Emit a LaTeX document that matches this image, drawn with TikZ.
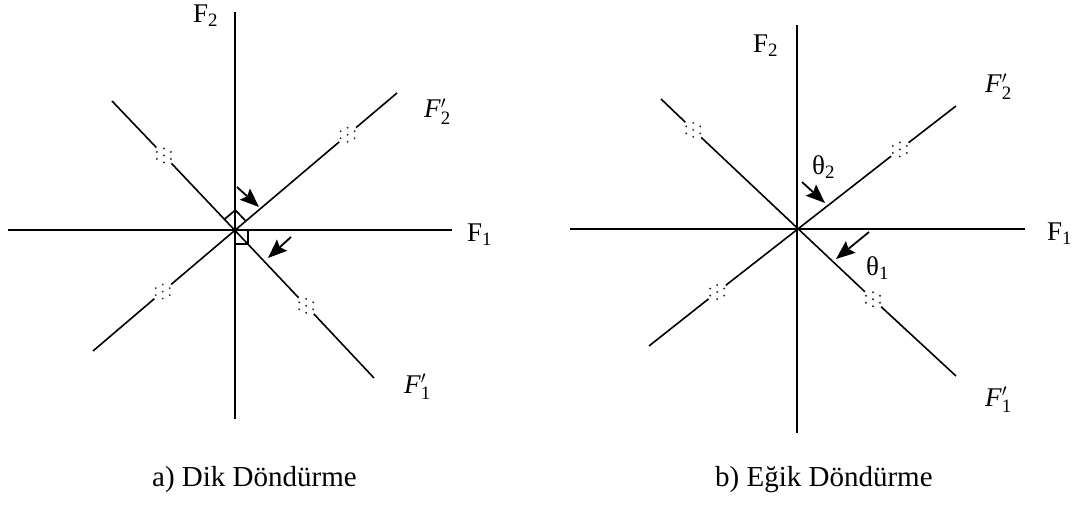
\documentclass[tikz,border=0pt]{standalone}
\usepackage{fontspec}
\setmainfont{Liberation Serif}
\usetikzlibrary{calc,arrows.meta}
\newcommand\brkdots[1]{%
  \foreach \dx/\dy in {0/-7,0/0,0/7,-7/-3.5,-7/3.5,7/-3.5,7/3.5}{%
    \fill[dotfill] ($(#1)+(\dx,\dy)$) circle (1.05pt);}}
\begin{document}
\begin{tikzpicture}[x=1pt,y=-1pt,
  axis/.style={line width=2.3pt},
  diag/.style={line width=1.6pt},
  rot/.style={line width=1.8pt,-{Stealth[length=19pt,width=15pt,inset=3pt]}},
  lbl/.style={inner sep=0pt,anchor=base west,font=\fontsize{27}{32}\selectfont},
  captext/.style={inner sep=0pt,anchor=base west,font=\fontsize{29}{34}\selectfont},
  dotfill/.style={fill=black!85,draw=none},
  rmark/.style={line width=1.7pt}
]
\fill[white] (0,0) rectangle (1088,505);
\useasboundingbox (0,0) rectangle (1088,505);

% ===== left diagram =====
\coordinate (O) at (235,230);
\coordinate (vT) at (235,12);  \coordinate (vB) at (235,419);
\coordinate (hL) at (8,230);   \coordinate (hR) at (452,230);
\coordinate (A1) at (397,93);  \coordinate (A2) at (93,351);
\coordinate (B1) at (112,101); \coordinate (B2) at (374,378);
\draw[axis] (vT) -- (vB);
\draw[axis] (hL) -- (hR);
% F2' line
\draw[diag] (A1) -- ($(O)!158.5pt!(A1)$);
\draw[diag] ($(O)!136.5pt!(A1)$) -- ($(O)!84pt!(A2)$);
\draw[diag] ($(O)!106pt!(A2)$) -- (A2);
\coordinate (gA1) at ($(O)!147.5pt!(A1)$);
\coordinate (gA2) at ($(O)!95pt!(A2)$);
% F1' line
\draw[diag] (B1) -- ($(O)!114pt!(B1)$);
\draw[diag] ($(O)!92pt!(B1)$) -- ($(O)!93pt!(B2)$);
\draw[diag] ($(O)!115pt!(B2)$) -- (B2);
\coordinate (gB1) at ($(O)!103pt!(B1)$);
\coordinate (gB2) at ($(O)!104pt!(B2)$);
\brkdots{gA1}\brkdots{gA2}\brkdots{gB1}\brkdots{gB2}
% right-angle marks
\coordinate (sq) at (248,244);
\draw[rmark] (O) rectangle (sq);
\coordinate (d1) at ($(O)!15pt!(B1)$);
\coordinate (d2) at ($(O)!14pt!(A1)$);
\coordinate (d3) at ($(d1)+(d2)-(O)$);
\draw[rmark] (d1) -- (d3) -- (d2);
% arrows
\coordinate (r1s) at (237,187); \coordinate (r1e) at (259,207);
\coordinate (r2s) at (291,237); \coordinate (r2e) at (268,258);
\draw[rot] (r1s) -- (r1e);
\draw[rot] (r2s) -- (r2e);
% labels
\node[lbl] (lF2) at (193,23) {F\textsubscript{2}};
\node[lbl] (lF1) at (467,242) {F\textsubscript{1}};
\node[lbl] (lF2p) at (424,118) {\textit{F}$'_{\mathrm{2}}$};
\node[lbl] (lF1p) at (404,393) {\textit{F}$'_{\mathrm{1}}$};
\node[captext] (capA) at (152,486) {a) Dik Döndürme};

% ===== right diagram =====
\coordinate (P) at (797,229);
\coordinate (wT) at (797,25);  \coordinate (wB) at (797,433);
\coordinate (kL) at (570,229); \coordinate (kR) at (1025,229);
\coordinate (C1) at (956,106); \coordinate (C2) at (649,346);
\coordinate (D1) at (661,99);  \coordinate (D2) at (956,376);
\draw[axis] (wT) -- (wB);
\draw[axis] (kL) -- (kR);
% F2' line
\draw[diag] (C1) -- ($(P)!141pt!(C1)$);
\draw[diag] ($(P)!119pt!(C1)$) -- ($(P)!90.7pt!(C2)$);
\draw[diag] ($(P)!112.7pt!(C2)$) -- (C2);
\coordinate (gC1) at ($(P)!130pt!(C1)$);
\coordinate (gC2) at ($(P)!101.7pt!(C2)$);
% F1' line
\draw[diag] (D1) -- ($(P)!154.5pt!(D1)$);
\draw[diag] ($(P)!132.5pt!(D1)$) -- ($(P)!92.5pt!(D2)$);
\draw[diag] ($(P)!114.5pt!(D2)$) -- (D2);
\coordinate (gD1) at ($(P)!143.5pt!(D1)$);
\coordinate (gD2) at ($(P)!103.5pt!(D2)$);
\brkdots{gC1}\brkdots{gC2}\brkdots{gD1}\brkdots{gD2}
% arrows
\coordinate (r3s) at (802,182); \coordinate (r3e) at (825,203);
\coordinate (r4s) at (869,232); \coordinate (r4e) at (836,259);
\draw[rot] (r3s) -- (r3e);
\draw[rot] (r4s) -- (r4e);
% labels
\node[lbl] (rF2) at (753,53) {F\textsubscript{2}};
\node[lbl] (rF1) at (1047,241) {F\textsubscript{1}};
\node[lbl] (rF2p) at (985,93) {\textit{F}$'_{\mathrm{2}}$};
\node[lbl] (rF1p) at (985,406) {\textit{F}$'_{\mathrm{1}}$};
\node[lbl] (th2) at (812,175) {θ\textsubscript{2}};
\node[lbl] (th1) at (866,276) {θ\textsubscript{1}};
\node[captext] (capB) at (715,486) {b) Eğik Döndürme};
\end{tikzpicture}
\end{document}
